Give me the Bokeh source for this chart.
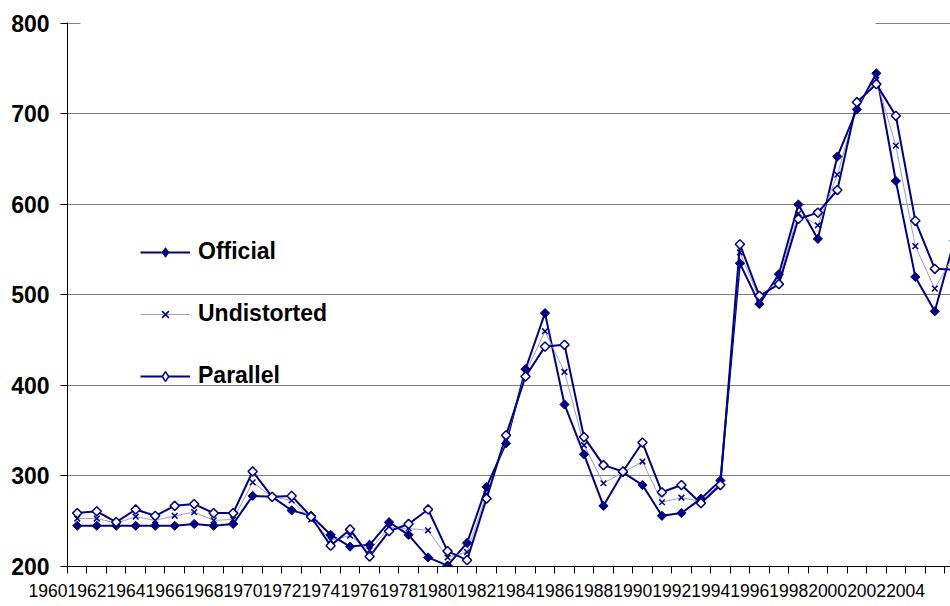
import math
from bokeh.plotting import figure
from bokeh.models import (ColumnDataSource, FixedTicker, Legend, LegendItem,
                          BoxAnnotation)
from bokeh.embed import file_html
from bokeh.resources import INLINE

# Annual series, 1960-2005
years = [1960, 1961, 1962, 1963, 1964, 1965, 1966, 1967, 1968, 1969,
         1970, 1971, 1972, 1973, 1974, 1975, 1976, 1977, 1978, 1979,
         1980, 1981, 1982, 1983, 1984, 1985, 1986, 1987, 1988, 1989,
         1990, 1991, 1992, 1993, 1994, 1995, 1996, 1997, 1998, 1999,
         2000, 2001, 2002, 2003, 2004, 2005]

official = [245, 245, 245, 245, 245, 245, 247, 245, 247, 278,
            277, 262, 256, 235, 222, 224, 249, 235, 210, 201,
            226, 288, 336, 418, 480, 379, 324, 267, 304, 290,
            256, 259, 275, 295, 535, 490, 523, 600, 562, 653,
            705, 745, 626, 520, 482, 560]

undistorted = [253, 253, 248, 255, 251, 256, 260, 251, 252, 293,
               277, 273, 252, 229, 234, 218, 243, 242, 240, 210,
               216, 280, 340, 414, 460, 415, 334, 292, 304, 316,
               271, 276, 272, 292, 547, 496, 517, 590, 577, 633,
               709, 738, 665, 554, 507, 545]

parallel = [259, 261, 249, 263, 256, 267, 269, 259, 259, 305,
            277, 278, 255, 223, 241, 211, 239, 247, 263, 217,
            207, 275, 345, 410, 443, 445, 343, 312, 305, 337,
            282, 290, 270, 290, 556, 499, 512, 584, 591, 616,
            713, 733, 698, 582, 529, 528]

label_years = [1960, 1962, 1964, 1966, 1968, 1970, 1972, 1974, 1976, 1978,
               1980, 1982, 1984, 1986, 1988, 1990, 1992, 1994, 1996, 1998,
               2000, 2002, 2004]

y_ticks = [200, 300, 400, 500, 600, 700, 800]

NAVY = "#000080"
FONT = "Liberation Sans"
W = 950
LEFT = 67            # width of the y-axis gutter
CAT = 19.49          # pixels per year
X0 = years[0] - 0.5  # left edge of the category axis
X1 = X0 + (W - LEFT) / CAT

src = ColumnDataSource(dict(year=years, official=official,
                            undistorted=undistorted, parallel=parallel))

# a hair of headroom above the top gridline so it is not clipped
p = figure(width=W, height=606, output_backend="svg", toolbar_location=None,
           x_range=(X0, X1), y_range=(y_ticks[0], y_ticks[-1] + 1.1),
           min_border_left=LEFT, min_border_right=0,
           min_border_top=22, min_border_bottom=40)
p.outline_line_color = None
p.background_fill_color = "white"

# Tick marks on every category boundary; each labelled boundary carries the
# year that follows it, with the text ending at the tick
labelled = set(label_years)
p.xaxis.ticker = FixedTicker(
    ticks=[y - 0.5 for y in years if y in labelled],
    minor_ticks=[y - 0.5 for y in years if y not in labelled])
p.xaxis.major_label_overrides = {y - 0.5: str(y) for y in label_years}
p.xaxis.major_label_orientation = 1e-6
p.xaxis.major_label_standoff = 17
p.xaxis.major_label_text_font = FONT
p.xaxis.major_label_text_font_size = "17.5px"
p.xaxis.major_label_text_color = "black"
p.xaxis.major_tick_in = 0
p.xaxis.major_tick_out = 7
p.xaxis.minor_tick_in = 0
p.xaxis.minor_tick_out = 7
p.xaxis.axis_line_color = "black"
p.xaxis.major_tick_line_color = "black"
p.xaxis.minor_tick_line_color = "black"
p.xgrid.visible = False

p.yaxis.ticker = FixedTicker(ticks=y_ticks)
p.yaxis.major_tick_in = 0
p.yaxis.major_tick_out = 7
p.yaxis.minor_tick_line_color = None
p.yaxis.axis_line_color = "black"
p.yaxis.major_tick_line_color = "black"
p.yaxis.major_label_standoff = 11
p.yaxis.major_label_text_font = FONT
p.yaxis.major_label_text_font_style = "bold"
p.yaxis.major_label_text_font_size = "23px"
p.yaxis.major_label_text_color = "black"
p.ygrid.ticker = FixedTicker(ticks=y_ticks[1:])
p.ygrid.grid_line_color = "#808080"
p.ygrid.grid_line_width = 1

# blank title strip over the top gridline
p.add_layout(BoxAnnotation(left=1960.17, right=2000.96, bottom=796, top=804,
                           fill_color="white", fill_alpha=1, line_color=None,
                           level="underlay"))

# Series lines
r_off_l = p.line("year", "official", source=src, line_color=NAVY, line_width=2)
r_und_l = p.line("year", "undistorted", source=src, line_color="#9a9ad8",
                 line_width=1)
r_par_l = p.line("year", "parallel", source=src, line_color=NAVY, line_width=2)

# Small diamonds used as legend swatches; they sit underneath the plotted
# markers (the legend draws markers unrotated)
key_off = p.scatter("year", "official", source=src, marker="diamond", size=5,
                    fill_color=NAVY, line_color=NAVY, line_width=1)
key_par = p.scatter("year", "parallel", source=src, marker="diamond", size=5,
                    fill_color="white", line_color=NAVY, line_width=1.5)

# Plotted markers: squares turned 45 degrees
p.scatter("year", "official", source=src, marker="square", size=6.5,
          angle=math.pi / 4, fill_color=NAVY, line_color=NAVY, line_width=1)
r_und_m = p.scatter("year", "undistorted", source=src, marker="x", size=8,
                    line_color=NAVY, line_width=1.5)
p.scatter("year", "parallel", source=src, marker="square", size=6.5,
          angle=math.pi / 4, fill_color="white", line_color=NAVY,
          line_width=1.5)

legend = Legend(items=[
    LegendItem(label="Official", renderers=[r_off_l, key_off]),
    LegendItem(label="Undistorted", renderers=[r_und_l, r_und_m]),
    LegendItem(label="Parallel", renderers=[r_par_l, key_par]),
], location=(73, 177))
legend.glyph_width = 50
legend.glyph_height = 24
legend.label_height = 20
legend.label_standoff = 8
legend.spacing = 35
legend.padding = 0
legend.margin = 0
legend.border_line_color = None
legend.background_fill_alpha = 0
legend.label_text_font = FONT
legend.label_text_font_style = "bold"
legend.label_text_font_size = "23px"
legend.label_text_color = "black"
p.add_layout(legend, "center")

open("out.html", "w").write(file_html(p, INLINE))
